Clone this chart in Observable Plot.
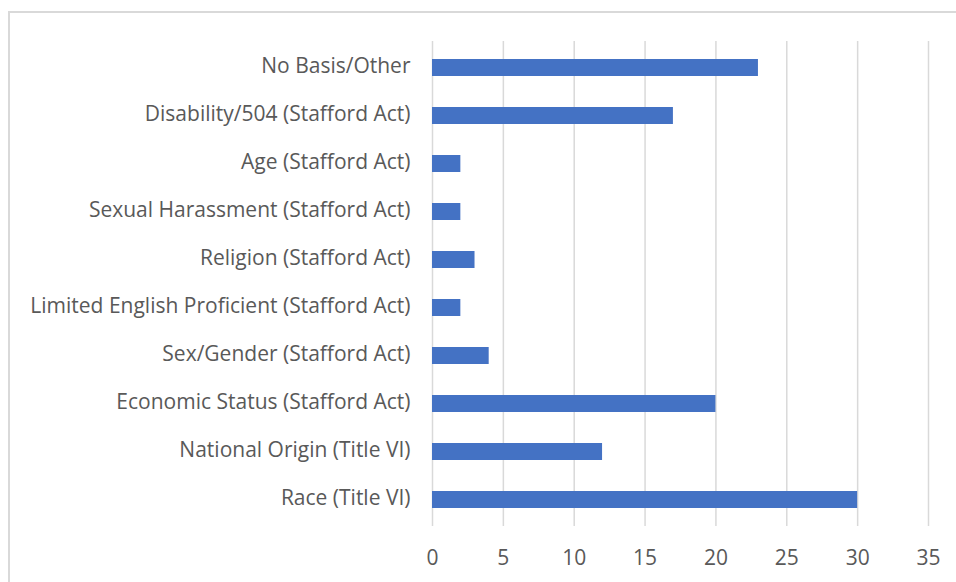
<!DOCTYPE html>
<html>
<head>
<meta charset="utf-8">
<script src="https://cdn.jsdelivr.net/npm/d3@7"></script>
<script src="https://cdn.jsdelivr.net/npm/@observablehq/plot@0.6"></script>
<style>
  html, body { margin: 0; padding: 0; background: #fff; overflow: hidden; }
  #wrap { position: relative; width: 956px; height: 582px; }
  #frame { position: absolute; left: 8px; top: 11px; width: 1000px; height: 700px; border: 2px solid #d9d9d9; box-sizing: border-box; pointer-events: none; }
  #chart { position: absolute; left: 0; top: 0; }
</style>
</head>
<body>
<div id="wrap">
  <div id="frame"></div>
  <div id="chart"></div>
</div>
<script>
const categories = [
  "No Basis/Other",
  "Disability/504 (Stafford Act)",
  "Age (Stafford Act)",
  "Sexual Harassment (Stafford Act)",
  "Religion (Stafford Act)",
  "Limited English Proficient (Stafford Act)",
  "Sex/Gender (Stafford Act)",
  "Economic Status (Stafford Act)",
  "National Origin (Title VI)",
  "Race (Title VI)"
];
const counts = [23, 17, 2, 2, 3, 2, 4, 20, 12, 30];
const xTicks = [0, 5, 10, 15, 20, 25, 30, 35];

const data = categories.map((c, i) => ({category: c, count: counts[i]}));

const chart = Plot.plot({
  width: 956,
  height: 582,
  marginLeft: 432,
  marginRight: 28,
  marginTop: 41,
  marginBottom: 56,
  style: {fontFamily: "'Open Sans', sans-serif", fontSize: "21px", color: "#595959", background: "transparent"},
  x: {domain: [0, 35], ticks: xTicks},
  y: {domain: categories, paddingInner: 0.65, paddingOuter: 0.325},
  marks: [
    Plot.gridX(xTicks, {stroke: "#d9d9d9", strokeWidth: 1.5, strokeOpacity: 1}),
    Plot.barX(data, {x: "count", y: "category", fill: "#4472c4"}),
    Plot.axisX(xTicks, {tickSize: 0, tickPadding: 24, label: null, fontSize: 21, fill: "#595959"}),
    Plot.axisY({tickSize: 0, tickPadding: 22, label: null, fontSize: 21, fill: "#595959", dy: -1.5})
  ]
});
document.getElementById("chart").appendChild(chart);
</script>
</body>
</html>
